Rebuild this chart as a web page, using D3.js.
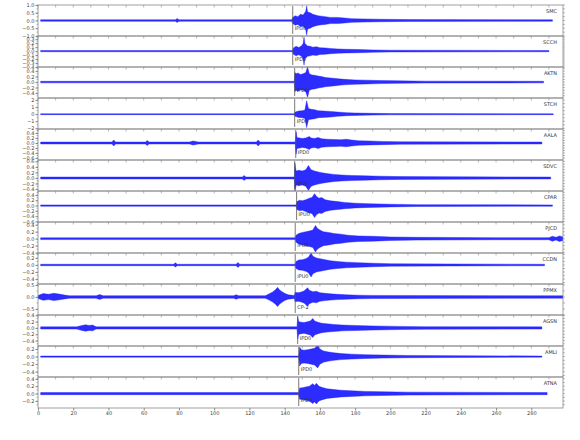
<!DOCTYPE html>
<html>
<head>
<meta charset="utf-8">
<script src="https://cdn.jsdelivr.net/npm/d3@7"></script>
<style>
body{margin:0;background:#fff}
text{font-family:"DejaVu Sans",sans-serif}
</style>
</head>
<body>
<div id="chart"></div>
<script>
// station order, top to bottom
var stations = ["SMC","SCCH","AKTN","STCH","AALA","SDVC","CPAR","PJCD","CCDN","PPMX","AGSN","AMLI","ATNA"];
var yDomains = [[-1,1],[-0.4,0.38],[-0.58,0.55],[-2.1,2.3],[-0.68,0.56],[-0.47,0.65],[-0.62,0.55],
                [-0.41,0.48],[-0.54,0.34],[-0.75,0.54],[-0.57,0.41],[-0.54,0.28],[-0.39,0.45]];
var tickSteps = [0.5,0.1,0.2,1,0.2,0.2,0.2,0.2,0.2,0.5,0.2,0.2,0.2];
var pickTimes = [144.6,144.6,145.7,145.7,146.3,145.7,146.8,146,146,146,147.4,148,148];
var pickLabels = ["IPU0","IPD0","IPD0","IPD0","IPD0","IPU0","IPU0","IPU0","IPU0","CP-2","IPD0","IPD0","IPD0"];
var timeTicks = d3.range(0, 281, 20);

// envelope of each trace: [time (s), half amplitude]
var smc = [[1.5,0.05],[78,0.05],[79,0.13],[80,0.05],[144,0.05],[144.6,0.2],[146,0.3],[147.5,0.25],[149,0.4],[150.5,0.35],
  [152,0.6],[152.5,0.95],[153,0.55],[154.5,0.5],[156,0.4],[157.5,0.35],[159,0.3],[161,0.28],[163,0.25],[166,0.2],
  [170,0.2],[174,0.16],[178,0.12],[185,0.1],[194,0.08],[210,0.06],[292,0.05]];
var scch = [[1.5,0.015],[144.5,0.015],[145,0.08],[146.5,0.12],[148,0.09],[149.5,0.13],[150.5,0.19],[151,0.35],[151.5,0.19],
  [153,0.13],[154.5,0.12],[156,0.1],[158,0.11],[160,0.085],[163,0.08],[166,0.065],[170,0.055],[175,0.045],[182,0.04],
  [190,0.03],[200,0.022],[290,0.015]];
var aktn = [[1.5,0.028],[145.5,0.028],[145.8,0.35],[146.5,0.3],[147.5,0.33],[149,0.28],[150.5,0.3],[152,0.35],[153,0.55],
  [154,0.3],[155.5,0.26],[157,0.25],[159,0.22],[161,0.2],[163,0.17],[166,0.15],[169,0.13],[172,0.11],[176,0.09],
  [180,0.08],[186,0.07],[194,0.055],[205,0.045],[220,0.035],[287,0.028]];
var stch = [[1.5,0.06],[145.5,0.06],[146,0.3],[148,0.45],[150,0.5],[151.5,0.6],[152.5,1.9],[153.5,0.8],[155,0.7],[157,0.65],
  [159,0.5],[162,0.45],[166,0.4],[170,0.3],[175,0.22],[180,0.17],[190,0.12],[200,0.09],[292.5,0.06]];
var aala = [[1.5,0.04],[42,0.04],[43,0.12],[44,0.04],[61,0.04],[62,0.1],[63,0.04],[86,0.04],[88,0.08],[91,0.04],
  [124,0.04],[125,0.12],[126,0.04],[146,0.04],[146.5,0.45],[147,0.22],[148.5,0.2],[150,0.18],[152,0.2],[154,0.26],
  [155,0.2],[157,0.18],[159,0.22],[161,0.17],[164,0.15],[168,0.14],[172,0.13],[175,0.15],[178,0.12],[182,0.09],
  [188,0.08],[195,0.065],[205,0.05],[286,0.04]];
var sdvc = [[1.5,0.035],[116,0.035],[117,0.09],[118,0.035],[145.5,0.035],[145.8,0.55],[146.5,0.25],[148,0.28],[150,0.25],
  [152,0.3],[153.5,0.45],[155,0.3],[157,0.25],[159,0.22],[162,0.18],[165,0.15],[168,0.13],[172,0.11],[178,0.09],
  [185,0.08],[194,0.065],[205,0.05],[291,0.035]];
var cpar = [[1.5,0.025],[146.5,0.025],[147,0.15],[148.5,0.2],[150,0.18],[152,0.22],[154,0.28],[155.5,0.3],[157,0.45],
  [158,0.35],[159.5,0.28],[161,0.3],[163,0.22],[166,0.18],[170,0.15],[174,0.12],[180,0.09],[188,0.07],[200,0.05],
  [215,0.035],[292,0.025]];
var pjcd = [[1.5,0.025],[146,0.025],[146.5,0.1],[148,0.15],[150,0.18],[152,0.2],[154,0.22],[156,0.25],[157.5,0.38],
  [158.5,0.3],[160,0.25],[162,0.2],[165,0.18],[168,0.15],[172,0.13],[176,0.1],[182,0.08],[190,0.07],[200,0.05],
  [215,0.04],[260,0.03],[290,0.03],[292,0.07],[294,0.04],[296,0.08],[298,0.05]];
var ccdn = [[1.5,0.02],[77,0.02],[78,0.06],[79,0.02],[112.5,0.02],[113.5,0.07],[114.5,0.02],[146,0.02],[146.5,0.1],
  [148,0.14],[150,0.15],[152,0.18],[153.5,0.22],[155,0.34],[156,0.25],[158,0.2],[160,0.18],[163,0.15],[166,0.12],
  [170,0.1],[175,0.08],[182,0.065],[190,0.05],[200,0.035],[287.5,0.02]];
var ppmx = [[0,0.06],[3,0.14],[6,0.11],[9,0.15],[12,0.12],[15,0.08],[18,0.05],[33,0.05],[35,0.1],[37,0.05],
  [111,0.05],[112.5,0.09],[114,0.05],[129,0.05],[131,0.12],[133,0.2],[134.5,0.28],[136,0.4],[137,0.3],[138.5,0.22],
  [140,0.15],[142,0.09],[145.5,0.06],[146,0.2],[147.5,0.18],[149,0.2],[151,0.25],[153,0.38],[154,0.28],[156,0.22],
  [158,0.24],[160,0.18],[163,0.15],[166,0.13],[170,0.11],[175,0.09],[182,0.075],[190,0.065],[298,0.05]];
var agsn = [[1.5,0.035],[22,0.035],[25,0.08],[27,0.1],[29,0.08],[31,0.09],[33,0.035],[147,0.035],[147.4,0.35],[148,0.2],
  [149.5,0.18],[151,0.17],[153,0.2],[154.5,0.22],[156,0.3],[157,0.22],[159,0.18],[161,0.15],[164,0.13],[168,0.11],
  [173,0.09],[180,0.08],[190,0.065],[205,0.05],[220,0.04],[286,0.035]];
var amli = [[1.5,0.015],[148,0.015],[148.5,0.25],[149.5,0.18],[151,0.17],[153,0.18],[155,0.2],[157,0.22],[158.7,0.3],
  [160,0.2],[162,0.15],[165,0.12],[168,0.1],[172,0.08],[178,0.065],[186,0.05],[196,0.04],[210,0.03],[286,0.015]];
var atna = [[1.5,0.028],[148,0.028],[148.5,0.15],[150,0.16],[152,0.18],[154,0.2],[156,0.27],[157,0.22],[158,0.28],
  [159.5,0.2],[161,0.17],[164,0.13],[168,0.11],[172,0.09],[178,0.075],[186,0.06],[196,0.05],[210,0.04],[289,0.028]];
var traces = [smc,scch,aktn,stch,aala,sdvc,cpar,pjcd,ccdn,ppmx,agsn,amli,atna];

var w=580,h=440,
    mLeft=38,mRight=563,mTop=5,mBottom=408,
    ph=(mBottom-mTop)/stations.length;

var svg=d3.select("#chart")
    .append("svg")
    .attr("width",w)
    .attr("height",h);

var x=d3.scaleLinear().domain([0,298]).range([mLeft,mRight]);
var defs=svg.append("defs");

stations.forEach(function(name,i){
  var y0=mTop+i*ph, y1=y0+ph;
  var y=d3.scaleLinear().domain(yDomains[i]).range([y1,y0]);
  var dom=yDomains[i], step=tickSteps[i];
  var major=d3.range(Math.ceil(dom[0]/step-1e-6)*step, dom[1]+1e-9, step).map(function(v){return +v.toFixed(2);});
  var minor=d3.range(Math.ceil(dom[0]/(step/2)-1e-6)*(step/2), dom[1]+1e-9, step/2).map(function(v){return +v.toFixed(3);});
  var fmt=step>=1?d3.format("d"):d3.format(".1f");

  var g=svg.append("g").attr("class","panel");

  defs.append("clipPath").attr("id","clip"+i)
    .append("rect").attr("x",mLeft).attr("y",y0).attr("width",mRight-mLeft).attr("height",ph);

  // trace envelope
  var area=d3.area()
      .x(function(d){return x(d[0]);})
      .y0(function(d){return y(-d[1]);})
      .y1(function(d){return y(d[1]);});
  g.append("path")
    .datum(traces[i])
    .attr("d",area)
    .attr("clip-path","url(#clip"+i+")")
    .attr("fill","#1515ff")
    .attr("fill-opacity",0.9)
    .attr("stroke","#1515ff")
    .attr("stroke-width",0.4);

  // pick line + label
  g.append("line")
    .attr("x1",x(pickTimes[i])).attr("x2",x(pickTimes[i]))
    .attr("y1",y0+1).attr("y2",y1-2)
    .attr("stroke","#555").attr("stroke-width",0.8);
  g.append("text")
    .attr("x",x(pickTimes[i])+2).attr("y",y0+25)
    .attr("font-size",5).attr("fill","#333")
    .text(pickLabels[i]);

  // frame
  g.append("rect")
    .attr("x",mLeft).attr("y",y0).attr("width",mRight-mLeft).attr("height",ph)
    .attr("fill","none").attr("stroke","#888").attr("stroke-width",0.8);

  // time ticks hanging from the top of each panel
  g.selectAll(".tt").data(d3.range(0,298,10)).enter().append("line")
    .attr("x1",function(d){return x(d);}).attr("x2",function(d){return x(d);})
    .attr("y1",y0).attr("y2",y0+2.5)
    .attr("stroke","#888").attr("stroke-width",0.6);

  // left amplitude axis
  var ax=g.append("g").attr("transform","translate("+mLeft+",0)")
    .call(d3.axisLeft(y).tickValues(major).tickSize(2.5).tickPadding(1).tickFormat(fmt));
  ax.select(".domain").remove();
  ax.selectAll("line").attr("stroke","#888");
  ax.selectAll("text").attr("font-size",5).attr("fill","#444");
  g.selectAll(".mn").data(minor).enter().append("line")
    .attr("x1",mLeft-1.5).attr("x2",mLeft)
    .attr("y1",function(d){return y(d);}).attr("y2",function(d){return y(d);})
    .attr("stroke","#888").attr("stroke-width",0.6);
  g.selectAll(".mr").data(minor).enter().append("line")
    .attr("x1",mRight).attr("x2",mRight+2)
    .attr("y1",function(d){return y(d);}).attr("y2",function(d){return y(d);})
    .attr("stroke","#888").attr("stroke-width",0.6);

  // station name
  g.append("text")
    .attr("x",mRight-6).attr("y",y0+8)
    .attr("text-anchor","end")
    .attr("font-size",5).attr("fill","#333")
    .text(name);
});

// bottom time axis
var bx=svg.append("g").attr("transform","translate(0,"+mBottom+")")
  .call(d3.axisBottom(x).tickValues(timeTicks).tickSize(2.5).tickPadding(1).tickFormat(d3.format("d")));
bx.select(".domain").remove();
bx.selectAll("line").attr("stroke","#888");
bx.selectAll("text").attr("font-size",5).attr("fill","#444");
</script>
</body>
</html>
